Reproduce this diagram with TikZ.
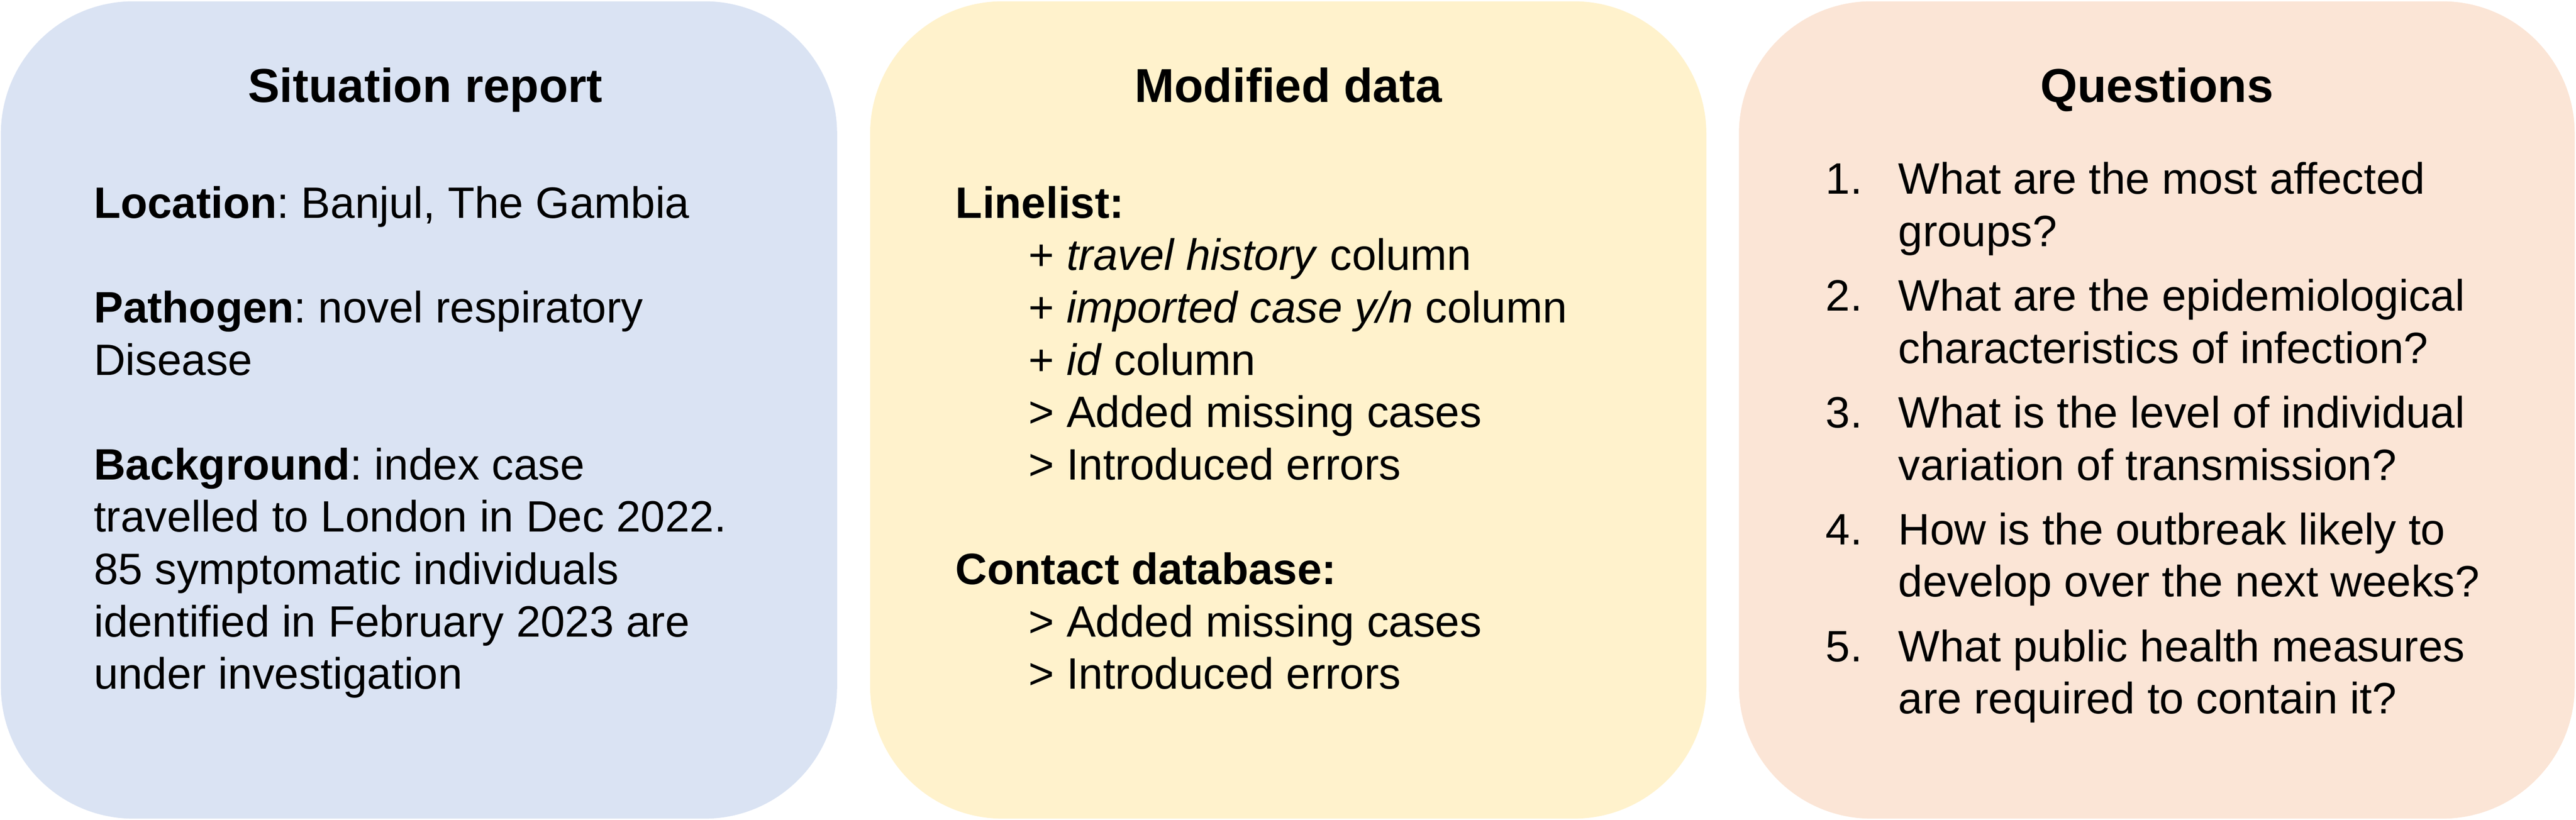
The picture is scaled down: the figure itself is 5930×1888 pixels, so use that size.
\documentclass[tikz,border=0pt]{standalone}
\usepackage{fontspec}
\setmainfont{Liberation Sans}
\frenchspacing

\begin{document}
\begin{tikzpicture}[x=0.175pt,y=-0.175pt]
        \tikzstyle{every node}=[inner sep=0pt, outer sep=0pt, font=\fontsize{17.7}{21}\selectfont]
        \tikzstyle{boxtitle}=[anchor=base, font=\fontsize{19.2}{23}\selectfont\bfseries]
        \tikzstyle{boxline}=[anchor=base west]
        \useasboundingbox (0,0) rectangle (5930,1888);
        \fill [ color={rgb,255:red,218; green,227; blue,243}, rounded corners=53.4pt] (2,3) rectangle (1927,1885);
        \fill [ color={rgb,255:red,255; green,242; blue,204}, rounded corners=53.4pt] (2003,3) rectangle (3928,1885);
        \fill [ color={rgb,255:red,251; green,229; blue,214}, rounded corners=53.4pt] (4003,3) rectangle (5927,1885);
        \node [boxtitle] (sittitle) at (979,236) {Situation report};
        \node [boxline] (location) at (216,502) {\textbf{Location}: Banjul, The Gambia};
        \node [boxline] (pathogen) at (216,743) {\textbf{Pathogen}: novel respiratory};
        \node [boxline] (disease) at (216,863.5) {Disease};
        \node [boxline] (backgr) at (216,1104.5) {\textbf{Background}: index case};
        \node [boxline] (travelled) at (216,1225) {travelled to London in Dec 2022.};
        \node [boxline] (sympt) at (216,1345.5) {85 symptomatic individuals};
        \node [boxline] (identified) at (216,1466) {identified in February 2023 are};
        \node [boxline] (investig) at (216,1586.5) {under investigation};
        \node [boxtitle] (datatitle) at (2965.5,236) {Modified data};
        \node [boxline] (linelist) at (2200,502) {\textbf{Linelist:}};
        \node [boxline] (lltravel) at (2368,622.5) {+ \textit{travel history} column};
        \node [boxline] (llimport) at (2368,743) {+ \textit{imported case y/n} column};
        \node [boxline] (llid) at (2368,863.5) {+ \textit{id} column};
        \node [boxline] (lladded) at (2368,984) {> Added missing cases};
        \node [boxline] (llerrors) at (2368,1104.5) {> Introduced errors};
        \node [boxline] (contact) at (2200,1345.5) {\textbf{Contact database:}};
        \node [boxline] (cdadded) at (2368,1466) {> Added missing cases};
        \node [boxline] (cderrors) at (2368,1586.5) {> Introduced errors};
        \node [boxtitle] (questitle) at (4965,236) {Questions};
        \node [boxline] (qnum1) at (4203,447) {1.};
        \node [boxline] (qnum2) at (4203,716) {2.};
        \node [boxline] (qnum3) at (4203,985) {3.};
        \node [boxline] (qnum4) at (4203,1254) {4.};
        \node [boxline] (qnum5) at (4203,1523) {5.};
        \node [boxline] (q1a) at (4370,447) {What are the most affected};
        \node [boxline] (q1b) at (4370,567.5) {groups?};
        \node [boxline] (q2a) at (4370,716) {What are the epidemiological};
        \node [boxline] (q2b) at (4370,836.5) {characteristics of infection?};
        \node [boxline] (q3a) at (4370,985) {What is the level of individual};
        \node [boxline] (q3b) at (4370,1105.5) {variation of transmission?};
        \node [boxline] (q4a) at (4370,1254) {How is the outbreak likely to};
        \node [boxline] (q4b) at (4370,1374.5) {develop over the next weeks?};
        \node [boxline] (q5a) at (4370,1523) {What public health measures};
        \node [boxline] (q5b) at (4370,1643.5) {are required to contain it?};
    \end{tikzpicture}
\end{document}
